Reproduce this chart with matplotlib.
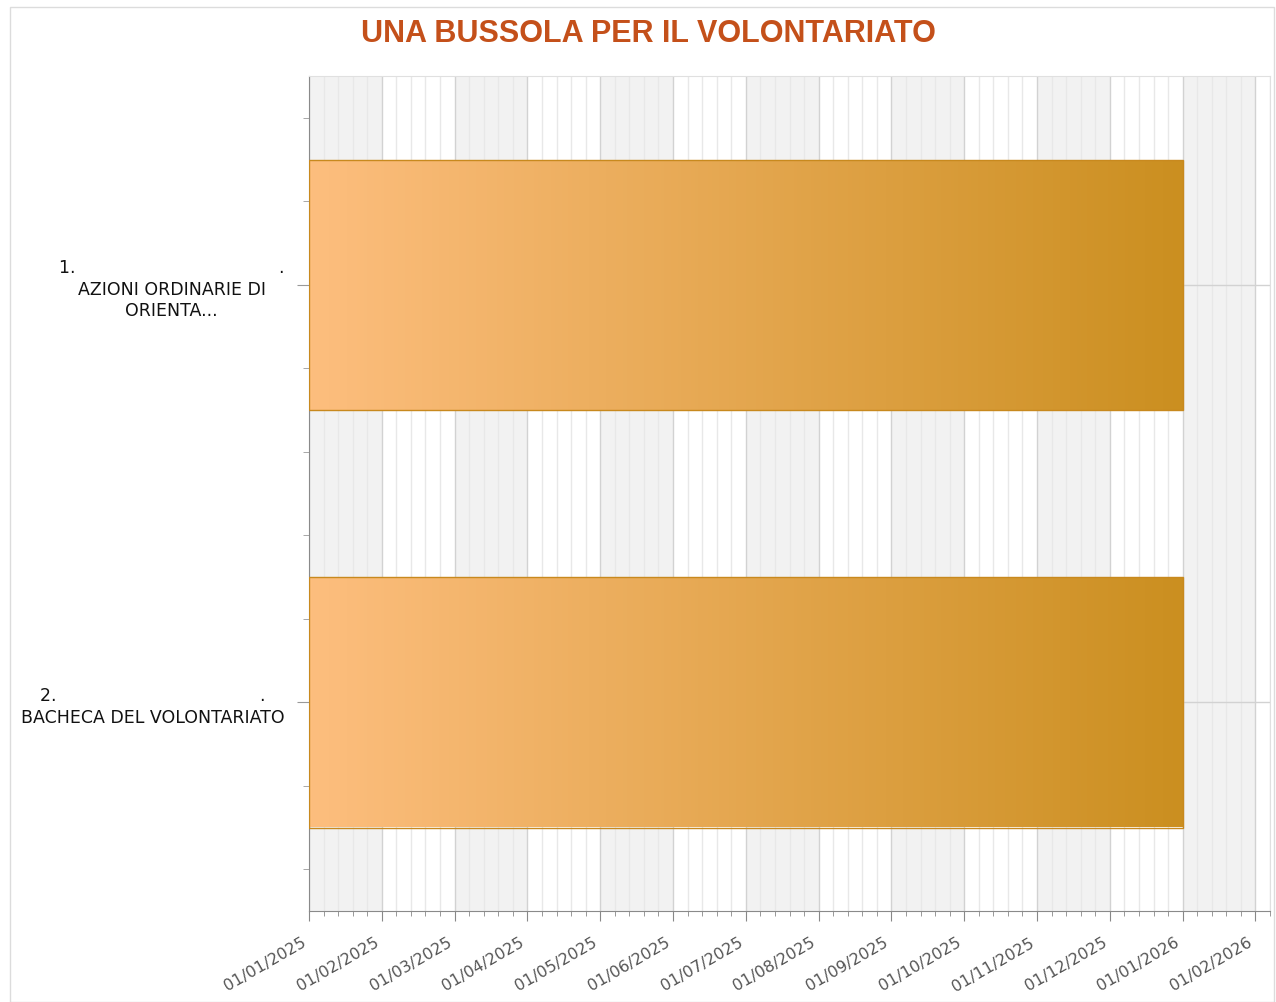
import matplotlib
matplotlib.use('Agg')
import matplotlib.pyplot as plt
import matplotlib.transforms as mtransforms
from matplotlib.patches import Rectangle
from matplotlib.ticker import MultipleLocator
import numpy as np
import calendar
from datetime import datetime

# data
tasks = ['1.                                     .\nAZIONI ORDINARIE DI\nORIENTA...',
         '2.                                     .\nBACHECA DEL VOLONTARIATO']
starts = [datetime(2025, 1, 1), datetime(2025, 1, 1)]
ends = [datetime(2026, 1, 1), datetime(2026, 1, 1)]
month_labels = ['01/01/2025', '01/02/2025', '01/03/2025', '01/04/2025', '01/05/2025',
                '01/06/2025', '01/07/2025', '01/08/2025', '01/09/2025', '01/10/2025',
                '01/11/2025', '01/12/2025', '01/01/2026', '01/02/2026']
x_end = 13.2  # visible range in months (timeline is drawn with equal-width months)
title = 'UNA BUSSOLA PER IL VOLONTARIATO'


def month_pos(d):
    # position on an equal-width month scale, counted from Jan 2025
    ndays = calendar.monthrange(d.year, d.month)[1]
    return (d.year - 2025) * 12 + (d.month - 1) + (d.day - 1) / ndays


fig = plt.figure(figsize=(12.76, 10.03), dpi=100)
ax = fig.add_axes([309 / 1276, 91 / 1003, 961 / 1276, 835 / 1003])

# light frame round the picture
fig.patches.append(Rectangle((10 / 1276, 0), 1264 / 1276, 995 / 1003, transform=fig.transFigure,
                             fill=False, edgecolor='#dcdcdc', linewidth=1))

# alternating month shading
for m in range(0, len(month_labels), 2):
    ax.axvspan(m, m + 1, color='#f2f2f2', zorder=0, lw=0)

ax.set_xticks(np.arange(len(month_labels)))
ax.set_xticklabels(month_labels)
ax.xaxis.set_minor_locator(MultipleLocator(0.2))
ax.grid(which='major', axis='x', color='#d2d2d2', lw=1, zorder=1)
ax.grid(which='minor', axis='x', color='#e8e8e8', lw=1, zorder=1)
ax.grid(which='major', axis='y', color='#d2d2d2', lw=1, zorder=1)

ypos = np.arange(len(tasks))
ax.set_yticks(ypos)
ax.set_yticklabels(tasks, fontsize=12.5, color='#111111', multialignment='center',
                   linespacing=1.25)
ax.yaxis.set_minor_locator(MultipleLocator(0.2))

ax.tick_params(axis='x', which='major', length=7.5, color='#888888', labelsize=11.5,
               labelcolor='#555555', pad=2)
ax.tick_params(axis='x', which='minor', length=3.6, color='#888888')
ax.tick_params(axis='y', which='major', length=8.6, color='#999999', pad=9)
ax.tick_params(axis='y', which='minor', length=4.3, color='#999999')
shift = mtransforms.ScaledTranslation(-8 / 100, -10 / 100, fig.dpi_scale_trans)
for lab in ax.get_xticklabels():
    lab.set_rotation(30)
    lab.set_ha('right')
    lab.set_rotation_mode('anchor')
    lab.set_transform(lab.get_transform() + shift)

for s in ['left', 'bottom']:
    ax.spines[s].set_color('#8a8a8a')
for s in ['top', 'right']:
    ax.spines[s].set_color('#e0e0e0')

# bars with horizontal gradient
grad = np.linspace(0, 1, 256).reshape(1, -1)
cmap = matplotlib.colors.LinearSegmentedColormap.from_list('g', ['#fdbe7e', '#cb8f20'])
left = [month_pos(s) for s in starts]
width = [month_pos(e) - month_pos(s) for s, e in zip(starts, ends)]
bars = ax.barh(ypos, width, left=left, height=0.6,
               color='none', edgecolor='#c8891e', linewidth=1, zorder=4)
for b, l, w, y in zip(bars, left, width, ypos):
    im = ax.imshow(grad, cmap=cmap, aspect='auto', zorder=3,
                   extent=[l, l + w, y + 0.3, y - 0.3])
    im.set_clip_path(b)
ax.set_xlim(0, x_end)
ax.set_ylim(1.5, -0.5)

fig.text(0.508, 0.966, title, ha='center', va='center', fontsize=22, fontweight='bold',
         color='#c4501a', family='Liberation Sans')

fig.savefig('out.png', dpi=100)
